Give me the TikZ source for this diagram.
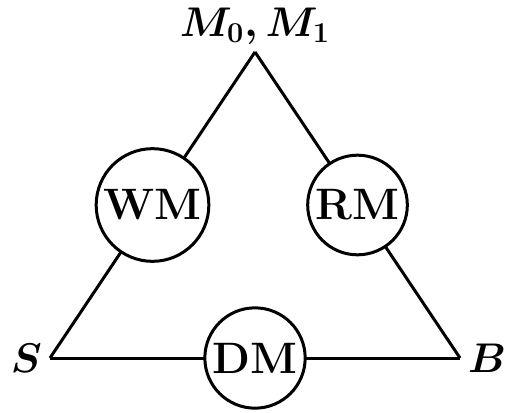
\documentclass[tikz,border=0pt]{standalone}
\usepackage{amsmath,amssymb}
\usepackage{tikz}
\usetikzlibrary{positioning}

\begin{document}
\begin{tikzpicture}[x=0.5pt, y=0.5pt, line width=1.5pt,
      font=\fontsize{22}{26}\selectfont\bfseries\boldmath,
      mem/.style={draw, circle, fill=white, inner sep=2pt}]
    \useasboundingbox (0,0) rectangle (506,412);
    % corners of the triangle
    \coordinate (top) at (255,360);
    \coordinate (s) at (50,54);
    \coordinate (b) at (460,54);
    \node (mlab) at (255,386) {$M_0, M_1$};
    \node[left=0pt of s] (slab) {$S$};
    \node[right=0pt of b] (blab) {$B$};
    % sides, each with its memory in the middle
    \draw (s) -- node[mem] (wm) {WM} (top);
    \draw (top) -- node[mem] (rm) {RM} (b);
    \draw (s) -- node[mem] (dm) {DM} (b);
  \end{tikzpicture}
\end{document}
